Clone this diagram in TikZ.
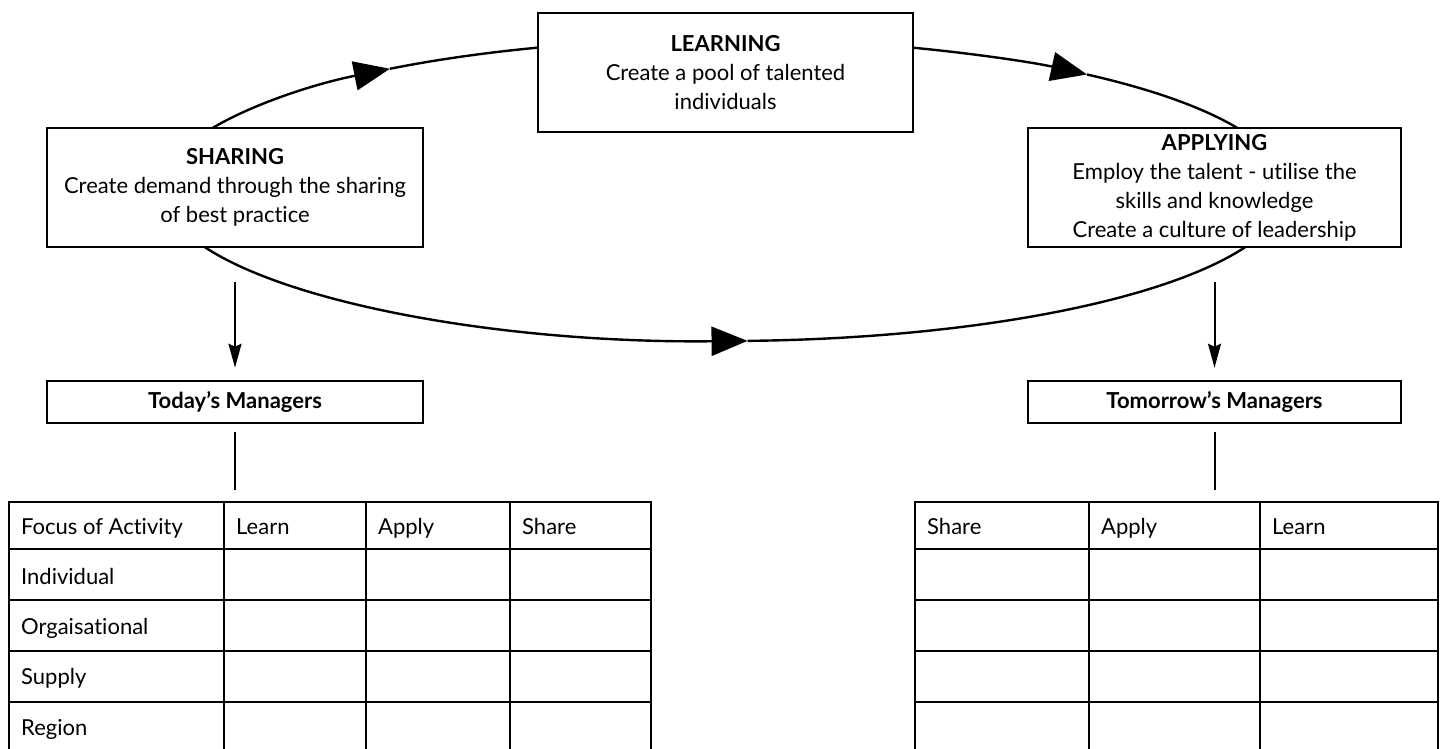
\documentclass[tikz,border=0pt]{standalone}
\usepackage{fontspec}
\setmainfont{Lato}[Ligatures={NoCommon}]
\usetikzlibrary{arrows.meta}
\begin{document}
\begin{tikzpicture}[x=1pt,y=1pt,
  curve/.style={line width=2.4pt},
  bigarr/.style={line width=2.4pt,-{Triangle[length=36pt,width=29pt]}},
  box/.style={draw,line width=2.6pt,fill=white,align=center,inner sep=0pt,font=\fontsize{22}{29}\selectfont},
  darr/.style={line width=2pt,-{Stealth[length=24pt,width=13pt,inset=3pt]}},
  plain/.style={line width=2pt},
  cell/.style={anchor=base west,inner sep=0pt,font=\fontsize{22}{24}\selectfont},
  grid/.style={line width=2.6pt}
]
\useasboundingbox (0,0) rectangle (1446,-749);
\coordinate (c) at (725,-190);
% ellipse arcs (drawn first, boxes cover the ends)
\draw[bigarr] ([shift={(155.8:562 and 151)}]c) arc[start angle=155.8,end angle=126.6,x radius=562,y radius=151] coordinate (t1);
\draw[curve] (t1) arc[start angle=126.6,end angle=109.4,x radius=562,y radius=151];
\draw[bigarr] ([shift={(70.5:562 and 151)}]c) arc[start angle=70.5,end angle=49.9,x radius=562,y radius=151] coordinate (t2);
\draw[curve] (t2) arc[start angle=49.9,end angle=24.2,x radius=562,y radius=151];
\draw[bigarr] ([shift={(202:562 and 151)}]c) arc[start angle=202,end angle=272.3,x radius=562,y radius=151] coordinate (t3);
\draw[curve] (t3) arc[start angle=272.3,end angle=338,x radius=562,y radius=151];
% boxes
\node[box,minimum width=375pt,minimum height=119pt] (learning) at (725.5,-72.5)
  {\textbf{LEARNING}\\Create a pool of talented\\individuals};
\node[box,minimum width=376pt,minimum height=119pt] (sharing) at (235,-187.5)
  {\textbf{SHARING}\\Create demand through the sharing\\of best practice};
\node[box,minimum width=373pt,minimum height=119pt] (applying) at (1214.5,-187.5)
  {\textbf{APPLYING}\\Employ the talent - utilise the\\skills and knowledge\\Create a culture of leadership};
\node[box,minimum width=376pt,minimum height=42pt] (today) at (235,-402) {\textbf{Today’s Managers}};
\node[box,minimum width=373pt,minimum height=42pt] (tomorrow) at (1214.5,-402) {\textbf{Tomorrow’s Managers}};
% down arrows
\draw[darr] ([yshift=-34pt]sharing.south) -- ([yshift=12pt]today.north);
\draw[darr] ([yshift=-34pt]applying.south) -- ([yshift=12pt]tomorrow.north);
\coordinate (lt) at (235,-490);
\coordinate (rt) at (1214.5,-490);
\draw[plain] ([yshift=-8pt]today.south) -- (lt);
\draw[plain] ([yshift=-8pt]tomorrow.south) -- (rt);
% left table
\draw[grid] (9,-760) -- (9,-502) -- (651,-502) -- (651,-760);
\foreach \y in {549,600,651,702} \draw[grid] (9,-\y) -- (651,-\y);
\foreach \x in {224,366,510} \draw[grid] (\x,-502) -- (\x,-760);
\node[cell] (h0) at (21,-534) {Focus of Activity};
\node[cell] (h1) at (236,-534) {Learn};
\node[cell] (h2) at (378,-534) {Apply};
\node[cell] (h3) at (522,-534) {Share};
\node[cell] (r1) at (21,-584) {Individual};
\node[cell] (r2) at (21,-634) {Orgaisational};
\node[cell] (r3) at (21,-684) {Supply};
\node[cell] (r4) at (21,-735) {Region};
% right table
\draw[grid] (915,-760) -- (915,-502) -- (1438,-502) -- (1438,-760);
\foreach \y in {549,600,651,702} \draw[grid] (915,-\y) -- (1438,-\y);
\foreach \x in {1089,1260} \draw[grid] (\x,-502) -- (\x,-760);
\node[cell] (g1) at (927,-534) {Share};
\node[cell] (g2) at (1101,-534) {Apply};
\node[cell] (g3) at (1272,-534) {Learn};
\end{tikzpicture}
\end{document}
